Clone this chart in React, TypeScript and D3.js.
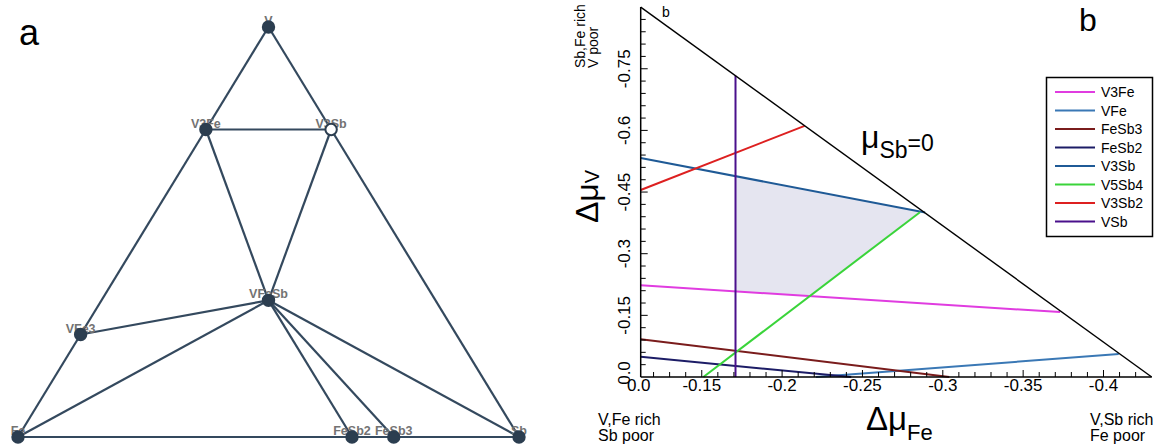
import React, { useEffect, useRef } from 'react';
import * as d3 from 'd3';

// ---- panel a: ternary V-Fe-Sb phase diagram
const phases = ['V', 'V3Fe', 'V3Sb', 'VFeSb', 'VFe3', 'Fe', 'FeSb2', 'FeSb3', 'Sb'];
const fracV = [1, 0.75, 0.75, 1 / 3, 0.25, 0, 0, 0, 0];
const fracSb = [0, 0, 0.25, 1 / 3, 0, 0, 2 / 3, 0.75, 1];
const openPhases = ['V3Sb'];
const tieLines = [
  ['V', 'V3Fe'], ['V', 'V3Sb'], ['V3Fe', 'V3Sb'], ['V3Fe', 'VFe3'], ['VFe3', 'Fe'],
  ['Fe', 'FeSb2'], ['FeSb2', 'FeSb3'], ['FeSb3', 'Sb'], ['Sb', 'V3Sb'],
  ['V3Fe', 'VFeSb'], ['V3Sb', 'VFeSb'], ['VFeSb', 'VFe3'], ['VFeSb', 'Fe'],
  ['VFeSb', 'FeSb2'], ['VFeSb', 'FeSb3'], ['VFeSb', 'Sb'],
];

// ---- panel b: chemical potential stability map (dmu_Fe, dmu_V)
const muNames = ['V3Fe', 'VFe', 'FeSb3', 'FeSb2', 'V3Sb', 'V5Sb4', 'V3Sb2', 'VSb'];
const muColors = ['#e03ce0', '#3a78b5', '#7a1c1c', '#1c1c66', '#1f5a96', '#3ad43a', '#dd2020', '#4a108c'];
const v3FeLine = [[-0.112, -0.223], [-0.373, -0.158]];
const vFeLine = [[-0.221, 0], [-0.4095, -0.056]];
const feSb3Line = [[-0.112, -0.092], [-0.304, 0]];
const feSb2Line = [[-0.112, -0.049], [-0.243, 0]];
const v3SbLine = [[-0.112, -0.533], [-0.289, -0.4]];
const v5Sb4Line = [[-0.151, 0], [-0.2858, -0.401]];
const v3Sb2Line = [[-0.112, -0.455], [-0.214, -0.611]];
const vSbLine = [[-0.171, 0], [-0.171, -0.733]];
const muSbZero = [[-0.112, -0.9], [-0.43, 0]];

const xTickValues = [-0.112, -0.15, -0.2, -0.25, -0.3, -0.35, -0.4];
const xTickLabels = ['0.0', '-0.15', '-0.2', '-0.25', '-0.3', '-0.35', '-0.4'];
const yTickValues = [0, -0.15, -0.3, -0.45, -0.6, -0.75];
const yTickLabels = ['0.0', '-0.15', '-0.3', '-0.45', '-0.6', '-0.75'];

const intersect = (p, q) => {
  const [[x1, y1], [x2, y2]] = p;
  const [[x3, y3], [x4, y4]] = q;
  const den = (x1 - x2) * (y3 - y4) - (y1 - y2) * (x3 - x4);
  const t = ((x1 - x3) * (y3 - y4) - (y1 - y3) * (x3 - x4)) / den;
  return [x1 + t * (x2 - x1), y1 + t * (y2 - y1)];
};

const App = () => {
  const svgRef = useRef<SVGSVGElement>(null);

  useEffect(() => {
    const font = 'Liberation Sans, Arial, sans-serif';
    d3.select(svgRef.current).selectAll('*').remove();
    const svg = d3.select(svgRef.current);

    // ---------- panel a
    const tx = d3.scaleLinear().domain([0, 1]).range([18, 519]);
    const ty = d3.scaleLinear().domain([0, 1]).range([437, 27]);
    const pos = (name) => {
      const i = phases.indexOf(name);
      return [tx(fracSb[i] + fracV[i] / 2), ty(fracV[i])];
    };
    const ga = svg.append('g');
    ga.selectAll('line').data(tieLines).enter().append('line')
      .attr('x1', d => pos(d[0])[0]).attr('y1', d => pos(d[0])[1])
      .attr('x2', d => pos(d[1])[0]).attr('y2', d => pos(d[1])[1])
      .attr('stroke', '#34495e').attr('stroke-width', 2.2);
    ga.selectAll('text.lbl').data(phases).enter().append('text')
      .attr('class', 'lbl')
      .attr('x', d => pos(d)[0]).attr('y', d => pos(d)[1] - 2)
      .attr('text-anchor', 'middle')
      .style('font-family', font).style('font-size', '12.5px').style('font-weight', 'bold')
      .style('fill', '#737373')
      .text(d => d);
    ga.selectAll('circle').data(phases).enter().append('circle')
      .attr('cx', d => pos(d)[0]).attr('cy', d => pos(d)[1])
      .attr('r', 5.7)
      .attr('fill', d => openPhases.includes(d) ? '#fff' : '#2c3e50')
      .attr('stroke', '#2c3e50').attr('stroke-width', 2);
    ga.append('text').attr('x', 19).attr('y', 45)
      .style('font-family', font).style('font-size', '36px').text('a');

    // ---------- panel b
    const x = d3.scaleLinear().domain([-0.112, -0.43]).range([640.7, 1151.7]);
    const y = d3.scaleLinear().domain([0, -0.9]).range([377, 7.1]);
    const gb = svg.append('g');
    const line = d3.line().x(d => x(d[0])).y(d => y(d[1]));

    // stable region
    const corners = [
      intersect(vSbLine, v3SbLine),
      intersect(v3SbLine, v5Sb4Line),
      intersect(v5Sb4Line, v3FeLine),
      intersect(v3FeLine, vSbLine),
    ];
    gb.append('path').attr('d', line(corners) + 'Z').attr('fill', '#e5e5f0');

    const lines = [v3FeLine, vFeLine, feSb3Line, feSb2Line, v3SbLine, v5Sb4Line, v3Sb2Line, vSbLine];
    gb.selectAll('path.mu').data(lines).enter().append('path')
      .attr('class', 'mu')
      .attr('d', d => line(d))
      .attr('fill', 'none')
      .attr('stroke', (d, i) => muColors[i])
      .attr('stroke-width', 2);

    gb.append('path').attr('d', line(muSbZero)).attr('stroke', '#000').attr('stroke-width', 1.4).attr('fill', 'none');

    // axes
    gb.append('line').attr('x1', x(-0.112)).attr('x2', x(-0.43)).attr('y1', y(0)).attr('y2', y(0))
      .attr('stroke', '#000').attr('stroke-width', 1.5);
    gb.append('line').attr('x1', x(-0.112)).attr('x2', x(-0.112)).attr('y1', y(0)).attr('y2', y(-0.9))
      .attr('stroke', '#000').attr('stroke-width', 1.5);

    const xMinor = d3.range(12, 43).map(i => -i / 100);
    gb.selectAll('line.xt').data(xMinor).enter().append('line')
      .attr('class', 'xt')
      .attr('x1', d => x(d)).attr('x2', d => x(d))
      .attr('y1', y(0)).attr('y2', (d, i) => y(0) - ((i + 12) % 5 === 0 ? 7 : 5))
      .attr('stroke', '#000').attr('stroke-width', 1);
    const yMinor = d3.range(1, 30).map(i => -i * 0.03);
    gb.selectAll('line.yt').data(yMinor).enter().append('line')
      .attr('class', 'yt')
      .attr('y1', d => y(d)).attr('y2', d => y(d))
      .attr('x1', x(-0.112)).attr('x2', (d, i) => x(-0.112) + ((i + 1) % 5 === 0 ? 7 : 5))
      .attr('stroke', '#000').attr('stroke-width', 1);

    gb.selectAll('text.xl').data(xTickValues).enter().append('text')
      .attr('class', 'xl')
      .attr('x', (d, i) => x(d) - (i === 0 ? 2 : 0)).attr('y', 391)
      .attr('text-anchor', 'middle')
      .style('font-family', font).style('font-size', '17px')
      .text((d, i) => xTickLabels[i]);
    gb.selectAll('text.yl').data(yTickValues).enter().append('text')
      .attr('class', 'yl')
      .attr('transform', (d, i) => `translate(630,${y(d) - (i === 0 ? 4 : 0)}) rotate(-90)`)
      .attr('text-anchor', 'middle')
      .style('font-family', font).style('font-size', '17px')
      .text((d, i) => yTickLabels[i]);

    // axis titles
    const yt = gb.append('text').attr('transform', 'translate(598,223) rotate(-90)')
      .style('font-family', font).style('font-size', '32px');
    yt.append('tspan').text('Δμ');
    yt.append('tspan').style('font-size', '20px').attr('dy', 1).text('V');

    const xtl = gb.append('text').attr('x', 866).attr('y', 430)
      .style('font-family', font).style('font-size', '33px');
    xtl.append('tspan').text('Δμ');
    xtl.append('tspan').style('font-size', '22px').attr('dy', 10).text('Fe');

    const mu = gb.append('text').attr('x', 861).attr('y', 148)
      .style('font-family', font).style('font-size', '32px');
    mu.append('tspan').text('μ');
    mu.append('tspan').style('font-size', '23px').attr('dy', 10).text('Sb');
    mu.append('tspan').style('font-size', '23px').attr('dy', -7).text('=0');

    // corner notes
    const note = (lines, xPos, yPos) => {
      lines.forEach((t, i) => {
        gb.append('text').attr('x', xPos).attr('y', yPos + i * 16)
          .style('font-family', font).style('font-size', '16px').text(t);
      });
    };
    note(['V,Fe rich', 'Sb poor'], 598, 425);
    note(['V,Sb rich', 'Fe poor'], 1090, 425);
    ['Sb,Fe rich', 'V poor'].forEach((t, i) => {
      gb.append('text').attr('transform', `translate(${585 + i * 13},68) rotate(-90)`)
        .style('font-family', font).style('font-size', '14px').text(t);
    });
    gb.append('text').attr('x', 662).attr('y', 17)
      .style('font-family', font).style('font-size', '14px').text('b');
    gb.append('text').attr('x', 1079).attr('y', 31)
      .style('font-family', font).style('font-size', '32px').text('b');

    // legend
    const lg = gb.append('g');
    lg.append('rect').attr('x', 1046.5).attr('y', 77.5).attr('width', 106).attr('height', 159)
      .attr('fill', '#fff').attr('stroke', '#000').attr('stroke-width', 1.5);
    const row = d3.scaleLinear().domain([0, 7]).range([92, 221.5]);
    lg.selectAll('line').data(muNames).enter().append('line')
      .attr('x1', 1055).attr('x2', 1095)
      .attr('y1', (d, i) => row(i)).attr('y2', (d, i) => row(i))
      .attr('stroke', (d, i) => muColors[i]).attr('stroke-width', 2.2);
    lg.selectAll('text').data(muNames).enter().append('text')
      .attr('x', 1101).attr('y', (d, i) => row(i) + 5)
      .style('font-family', font).style('font-size', '14px')
      .text(d => d);
  }, []);

  return (
    <svg ref={svgRef} width={1155} height={448}
      style={{ position: 'absolute', left: 0, top: 0, background: '#fff' }} />
  );
};

export default App;
